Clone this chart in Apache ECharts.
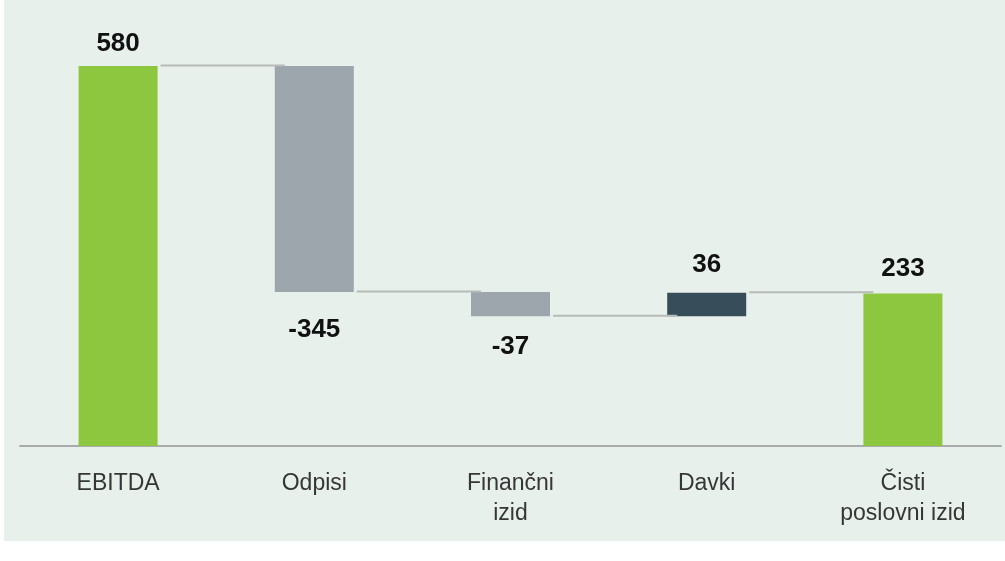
<!DOCTYPE html>
<html>
<head>
<meta charset="utf-8">
<script src="https://cdn.jsdelivr.net/npm/echarts@6/dist/echarts.min.js"></script>
<style>
html,body{margin:0;padding:0;background:#ffffff;}
#chart{width:1005px;height:561px;}
</style>
</head>
<body>
<div id="chart"></div>
<script>
const categories = ['EBITDA', 'Odpisi', 'Finančni\nizid', 'Davki', 'Čisti\nposlovni izid'];
const changes = [580, -345, -37, 36, 233];
const kinds = ['total', 'delta', 'delta', 'delta', 'total'];
const barColors = ['#8dc63f', '#9ca6ac', '#9ca6ac', '#374e5a', '#8dc63f'];
const labelDistances = [9, 25, 18, 15, 12];

const baseVals = [];
const heightVals = [];
const levels = [];
let running = 0;
changes.forEach((v, i) => {
  let base, h;
  if (kinds[i] === 'total') { base = 0; h = v; running = v; }
  else if (v < 0) { base = running + v; h = -v; running += v; }
  else { base = running; h = v; running += v; }
  baseVals.push(base);
  heightVals.push({
    value: h,
    itemStyle: { color: barColors[i] },
    label: {
      show: true,
      position: changes[i] < 0 ? 'bottom' : 'top',
      distance: labelDistances[i]
    }
  });
  levels.push(running);
});
const connectorData = levels.slice(0, -1).map((lv, i) => [i, lv]);

const chart = echarts.init(document.getElementById('chart'), null, { renderer: 'canvas' });
const BAR_W = 79;
chart.setOption({
  animation: false,
  backgroundColor: '#ffffff',
  graphic: [{
    type: 'rect', left: 4, top: 0, z: -10,
    shape: { width: 1001, height: 541 },
    style: { fill: '#e7f0eb' }
  }],
  grid: { left: 20, right: 4, top: 53, bottom: 115, containLabel: false },
  xAxis: {
    type: 'category',
    data: categories,
    axisLine: { lineStyle: { color: '#a9acaa', width: 2 } },
    axisTick: { show: false },
    axisLabel: {
      color: '#363636',
      fontFamily: 'Liberation Sans, Arial, sans-serif',
      fontSize: 23,
      lineHeight: 30,
      margin: 23,
      interval: 0
    }
  },
  yAxis: { type: 'value', min: 0, max: 600, show: false, splitLine: { show: false } },
  series: [
    {
      type: 'bar', stack: 'wf', barWidth: BAR_W,
      data: baseVals,
      itemStyle: { color: 'transparent' },
      emphasis: { disabled: true },
      silent: true
    },
    {
      type: 'bar', stack: 'wf', barWidth: BAR_W,
      data: heightVals,
      label: {
        show: true,
        color: '#111111',
        fontFamily: 'Liberation Sans, Arial, sans-serif',
        fontWeight: 'bold',
        fontSize: 26,
        formatter: (p) => String(changes[p.dataIndex])
      }
    },
    {
      type: 'custom',
      data: connectorData,
      z: 5,
      renderItem: (params, api) => {
        const i = api.value(0);
        const lv = api.value(1);
        const a = api.coord([i, lv]);
        const b = api.coord([i + 1, lv]);
        return {
          type: 'line',
          shape: { x1: a[0] + BAR_W / 2 + 3, y1: a[1] - 0.5, x2: b[0] - BAR_W / 2 + 10, y2: b[1] - 0.5 },
          style: { stroke: '#b7bbb9', lineWidth: 2 }
        };
      }
    }
  ]
});
</script>
</body>
</html>
